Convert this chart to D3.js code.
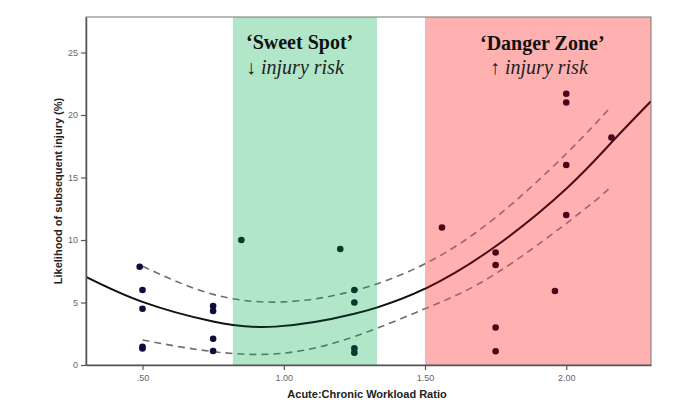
<!DOCTYPE html>
<html><head><meta charset="utf-8">
<script src="https://cdn.jsdelivr.net/npm/d3@7"></script>
<style>body{margin:0;background:#fff}svg{display:block}</style>
</head><body>
<svg id="c" width="691" height="415"></svg>
<script>
// Data
const pointsX = [0.49,0.50,0.50,0.50,0.50,0.75,0.75,0.75,0.75,0.85,1.20,1.25,1.25,1.25,1.25,1.56,1.75,1.75,1.75,1.75,1.96,2.00,2.00,2.00,2.00,2.16];
const pointsY = [7.86,6.0,4.5,1.33,1.45,4.72,4.32,2.1,1.12,10.0,9.28,6.0,5.0,1.33,0.99,11.0,9.0,8.0,3.0,1.1,5.92,21.7,21.0,16.0,12.0,18.2];
const fitX = [0.30,0.50,0.75,0.97,1.25,1.50,1.75,2.00,2.16,2.30];
const fitY = [7.05,5.05,3.48,3.07,4.10,6.10,9.50,14.1,17.8,21.1];
const upperX = [0.50,0.75,1.00,1.25,1.50,1.75,2.00,2.16];
const upperY = [7.90,5.65,5.05,5.95,8.10,11.8,16.9,20.7];
const lowerX = [0.50,0.75,1.00,1.25,1.50,1.75,2.05,2.16];
const lowerY = [2.00,1.07,0.95,2.27,4.50,7.30,12.2,14.3];
const xTicks = [0.5,1.0,1.5,2.0];
const xTickLabels = [".50","1.00","1.50","2.00"];
const yTicks = [0,5,10,15,20,25];
const sweetSpot = [0.82,1.33];
const dangerZone = [1.50,2.30];

const svg = d3.select("#c");
const L=86,R=651,T=17,B=365;
const x = d3.scaleLinear().domain([0.30,2.30]).range([L,R]);
const y = d3.scaleLinear().domain([0,27.84]).range([B,T]);

// bands
svg.append("rect").attr("x",x(sweetSpot[0])).attr("y",T).attr("width",x(sweetSpot[1])-x(sweetSpot[0])).attr("height",B-T).attr("fill","#b1e6c9");
svg.append("rect").attr("x",x(dangerZone[0])).attr("y",T).attr("width",x(dangerZone[1])-x(dangerZone[0])).attr("height",B-T).attr("fill","#ffb1b1");

const defs = svg.append("defs");
const zones = [
  {id:"zw1", a:0.30, b:sweetSpot[0], dot:"#0d0d3d", fit:"#111111", dash:"#6e6e6e"},
  {id:"zg",  a:sweetSpot[0], b:sweetSpot[1], dot:"#083a2c", fit:"#0a2a1f", dash:"#4f7f68"},
  {id:"zw2", a:sweetSpot[1], b:dangerZone[0], dot:"#0d0d3d", fit:"#111111", dash:"#6e6e6e"},
  {id:"zr",  a:dangerZone[0], b:dangerZone[1], dot:"#4a0418", fit:"#4a0a14", dash:"#a8606c"}
];
const line = d3.line().x(d=>x(d[0])).y(d=>y(d[1])).curve(d3.curveNatural);
const fit = fitX.map((v,i)=>[v,fitY[i]]);
const up = upperX.map((v,i)=>[v,upperY[i]]);
const lo = lowerX.map((v,i)=>[v,lowerY[i]]);
const pts = pointsX.map((v,i)=>[v,pointsY[i]]);

zones.forEach(z=>{
  defs.append("clipPath").attr("id",z.id).append("rect")
    .attr("x",x(z.a)).attr("y",T).attr("width",x(z.b)-x(z.a)).attr("height",B-T);
  const g = svg.append("g").attr("clip-path",`url(#${z.id})`);
  [up,lo].forEach(d=>g.append("path").attr("d",line(d)).attr("fill","none")
    .attr("stroke",z.dash).attr("stroke-width",1.6).attr("stroke-dasharray","7,5"));
  g.append("path").attr("d",line(fit)).attr("fill","none").attr("stroke",z.fit).attr("stroke-width",2);
  g.selectAll("circle").data(pts).join("circle")
    .attr("cx",d=>x(d[0])).attr("cy",d=>y(d[1])).attr("r",3.3).attr("fill",z.dot);
});

// frame
svg.append("rect").attr("x",L).attr("y",T).attr("width",R-L).attr("height",B-T)
  .attr("fill","none").attr("stroke","#777").attr("stroke-width",1);

// axes
const xa = svg.append("g").attr("transform",`translate(0,${B})`)
  .call(d3.axisBottom(x).tickValues(xTicks).tickFormat((d,i)=>xTickLabels[i]).tickSize(5).tickSizeOuter(0));
const ya = svg.append("g").attr("transform",`translate(${L},0)`)
  .call(d3.axisLeft(y).tickValues(yTicks).tickSize(5).tickSizeOuter(0));
[xa,ya].forEach(a=>{
  a.select(".domain").attr("stroke","#555").attr("stroke-width",1.5);
  a.selectAll(".tick line").attr("stroke","#555").attr("stroke-width",1.2);
  a.selectAll(".tick text").attr("fill","#666").style("font-family","'Liberation Sans',Arial,sans-serif").style("font-size","9px");
});
xa.selectAll(".tick text").attr("dy","0.9em");

svg.append("text").attr("x",367).attr("y",398).attr("text-anchor","middle")
  .style("font-family","'Liberation Sans',Arial,sans-serif").style("font-size","11px").style("font-weight","bold")
  .attr("fill","#222").text("Acute:Chronic Workload Ratio");
svg.append("text").attr("transform",`translate(62,${(T+B)/2}) rotate(-90)`).attr("text-anchor","middle")
  .style("font-family","'Liberation Sans',Arial,sans-serif").style("font-size","11px").style("font-weight","bold")
  .attr("fill","#222").text("Likelihood of subsequent injury (%)");

// annotations
const serif = "'Liberation Serif','Times New Roman',serif";
svg.append("text").attr("x",246).attr("y",49).style("font-family",serif).style("font-size","20px").style("font-weight","bold").attr("fill","#111").text("\u2018Sweet Spot\u2019");
svg.append("text").attr("x",246).attr("y",74).style("font-family",serif).style("font-size","20px").style("font-style","italic").attr("fill","#222").text("\u2193 injury risk");
svg.append("text").attr("x",480).attr("y",50).style("font-family",serif).style("font-size","20px").style("font-weight","bold").attr("fill","#111").text("\u2018Danger Zone\u2019");
svg.append("text").attr("x",490).attr("y",74).style("font-family",serif).style("font-size","20px").style("font-style","italic").attr("fill","#222").text("\u2191 injury risk");
</script>
</body></html>
